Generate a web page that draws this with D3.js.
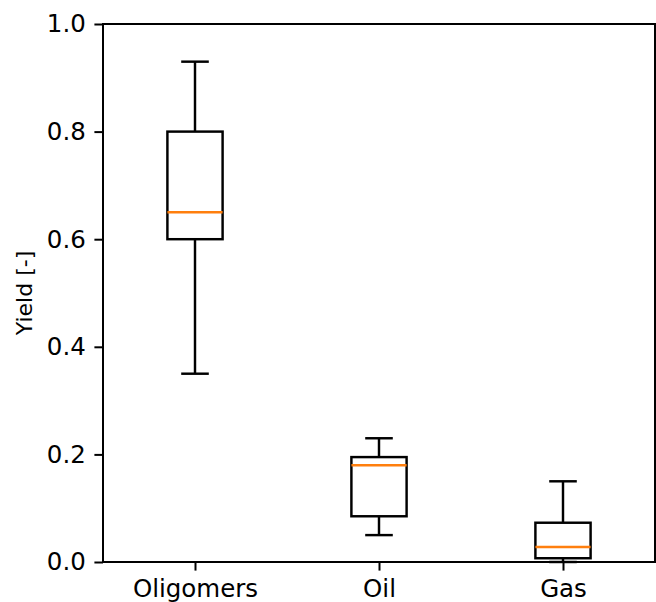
<!DOCTYPE html>
<html lang="en">
<head>
  <meta charset="UTF-8">
  <title>Yield boxplot</title>
  <script src="https://cdn.jsdelivr.net/npm/d3@7"></script>
  <style>
    body { margin: 0; background: #fff; }
    svg { display: block; font-family: "DejaVu Sans", sans-serif; }
  </style>
</head>
<body>
<div id="chart"></div>
<script>
  // box statistics
  const categories = ["Oligomers", "Oil", "Gas"];
  const whiskerLow = [0.35, 0.05, 0.0];
  const q1 = [0.60, 0.085, 0.007];
  const median = [0.65, 0.18, 0.028];
  const q3 = [0.80, 0.195, 0.073];
  const whiskerHigh = [0.93, 0.23, 0.15];
  const yTicks = [0.0, 0.2, 0.4, 0.6, 0.8, 1.0];

  const width = 656, height = 602;
  const margin = { top: 24, right: 1, bottom: 40, left: 103 };

  const svg = d3.select("#chart").append("svg")
      .attr("width", width)
      .attr("height", height);

  const x = d3.scaleLinear()
      .domain([0.5, categories.length + 0.5])
      .range([margin.left, width - margin.right]);

  const y = d3.scaleLinear()
      .domain([0, 1])
      .range([height - margin.bottom, margin.top]);

  const boxW = 0.3, capW = 0.15;
  const lw = 2.45;

  const boxes = categories.map((c, i) => ({
    name: c, pos: i + 1,
    lo: whiskerLow[i], q1: q1[i], med: median[i], q3: q3[i], hi: whiskerHigh[i]
  }));

  const g = svg.append("g").selectAll("g").data(boxes).join("g");

  // whiskers
  g.append("line")
      .attr("x1", d => x(d.pos)).attr("x2", d => x(d.pos))
      .attr("y1", d => y(d.q3)).attr("y2", d => y(d.hi))
      .attr("stroke", "#000").attr("stroke-width", lw);
  g.append("line")
      .attr("x1", d => x(d.pos)).attr("x2", d => x(d.pos))
      .attr("y1", d => y(d.q1)).attr("y2", d => y(d.lo))
      .attr("stroke", "#000").attr("stroke-width", lw);

  // caps
  ["hi", "lo"].forEach(k => {
    g.append("line")
        .attr("x1", d => x(d.pos - capW / 2)).attr("x2", d => x(d.pos + capW / 2))
        .attr("y1", d => y(d[k])).attr("y2", d => y(d[k]))
        .attr("stroke", "#000").attr("stroke-width", lw);
  });

  // box
  g.append("rect")
      .attr("x", d => x(d.pos - boxW / 2))
      .attr("width", d => x(d.pos + boxW / 2) - x(d.pos - boxW / 2))
      .attr("y", d => y(d.q3))
      .attr("height", d => y(d.q1) - y(d.q3))
      .attr("fill", "none")
      .attr("stroke", "#000").attr("stroke-width", lw);

  // median
  g.append("line")
      .attr("x1", d => x(d.pos - boxW / 2)).attr("x2", d => x(d.pos + boxW / 2))
      .attr("y1", d => y(d.med)).attr("y2", d => y(d.med))
      .attr("stroke", "#ff7f0e").attr("stroke-width", lw);

  // axes
  const yAxis = svg.append("g")
      .attr("transform", `translate(${margin.left},0)`)
      .call(d3.axisLeft(y).tickValues(yTicks).tickFormat(d3.format(".1f"))
        .tickSize(8.6).tickPadding(8.6));
  yAxis.select(".domain").remove();

  const xAxis = svg.append("g")
      .attr("transform", `translate(0,${height - margin.bottom})`)
      .call(d3.axisBottom(x).tickValues(boxes.map(d => d.pos))
        .tickFormat((d, i) => categories[i]).tickSize(8.6).tickPadding(8.6));
  xAxis.select(".domain").remove();

  svg.selectAll(".tick line").attr("stroke", "#000").attr("stroke-width", 2);
  svg.selectAll(".tick text").attr("fill", "#000").style("font-size", "24.5px")
      .style("font-family", "'DejaVu Sans', sans-serif");

  // frame
  svg.append("rect")
      .attr("x", margin.left).attr("y", margin.top)
      .attr("width", width - margin.right - margin.left)
      .attr("height", height - margin.bottom - margin.top)
      .attr("fill", "none").attr("stroke", "#000").attr("stroke-width", 2);

  // y label
  svg.append("text")
      .attr("transform", `translate(24,${(margin.top + height - margin.bottom) / 2}) rotate(-90)`)
      .attr("text-anchor", "middle")
      .attr("dy", "0.35em")
      .style("font-size", "22px")
      .text("Yield [-]");
</script>
</body>
</html>
